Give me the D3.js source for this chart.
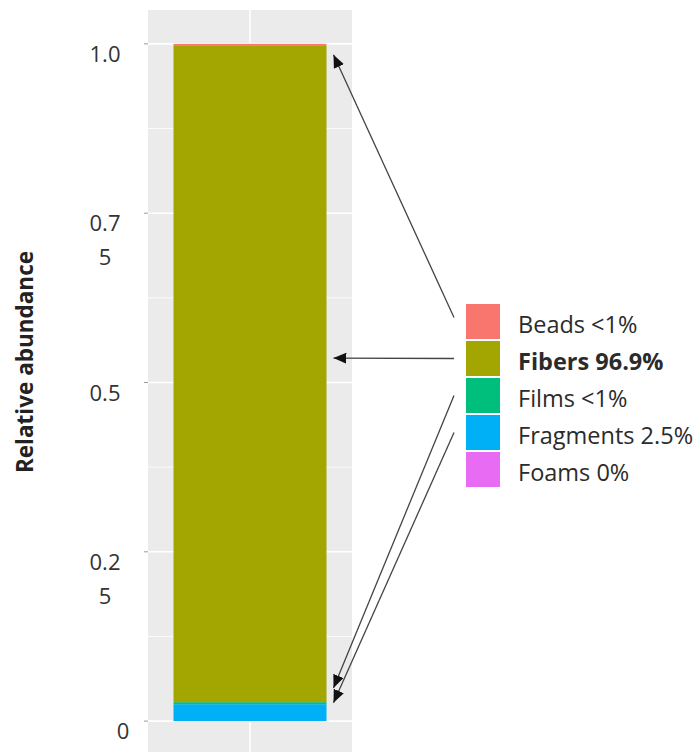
<!DOCTYPE html>
<html>
<head>
<meta charset="utf-8">
<script src="https://cdn.jsdelivr.net/npm/d3@7"></script>
<style>
  html, body { margin: 0; padding: 0; background: #fff; }
  svg { display: block; font-family: "Open Sans", "DejaVu Sans", sans-serif; }
</style>
</head>
<body>
<svg id="chart" width="700" height="752"></svg>
<script>
// ---- data ----
const categories = ["Beads", "Fibers", "Films", "Fragments", "Foams"];
const shares = [0.003, 0.969, 0.003, 0.025, 0.0];
const legendLabels = ["Beads <1%", "Fibers 96.9%", "Films <1%", "Fragments 2.5%", "Foams 0%"];
const colors = ["#F8766D", "#A3A500", "#00BF7D", "#00B0F6", "#E76BF3"];
const tickValues = [0, 0.25, 0.5, 0.75, 1.0];
const tickLabels = ["0", "0.2\n5", "0.5", "0.7\n5", "1.0"];
const yTitle = "Relative abundance";
// arrows: from legend entry to a level on the bar
const arrowFrom = ["Beads", "Fibers", "Films", "Fragments"];
const arrowTo = [0.984, 0.536, 0.049, 0.027];

// ---- layout ----
const svg = d3.select("#chart");
const panel = { left: 148, right: 352, top: 10, bottom: 755 };

const x = d3.scaleLinear().domain([0.4, 1.6]).range([panel.left, panel.right]);
const y = d3.scaleLinear().domain([-0.05, 1.05]).range([panel.bottom, panel.top]);

// panel background
svg.append("rect")
  .attr("x", panel.left).attr("y", panel.top)
  .attr("width", panel.right - panel.left).attr("height", panel.bottom - panel.top)
  .attr("fill", "#EBEBEB");

// minor gridlines
const minor = d3.range(0, 4).map(i => tickValues[i] + 0.125);
svg.append("g").selectAll("line").data(minor).join("line")
  .attr("x1", panel.left).attr("x2", panel.right)
  .attr("y1", d => y(d)).attr("y2", d => y(d))
  .attr("stroke", "#fff").attr("stroke-width", 0.8);
// major gridlines
svg.append("g").selectAll("line").data(tickValues).join("line")
  .attr("x1", panel.left).attr("x2", panel.right)
  .attr("y1", d => y(d)).attr("y2", d => y(d))
  .attr("stroke", "#fff").attr("stroke-width", 1.6);
svg.append("line")
  .attr("x1", x(1)).attr("x2", x(1))
  .attr("y1", panel.top).attr("y2", panel.bottom)
  .attr("stroke", "#fff").attr("stroke-width", 1.6);

// stacked bar (ggplot order: first category on top)
const stackOrder = categories.slice().reverse();
let acc = 0;
const segs = stackOrder.map(c => {
  const i = categories.indexOf(c);
  const s = { cat: c, y0: acc, y1: acc + shares[i], color: colors[i] };
  acc += shares[i];
  return s;
});
svg.append("g").selectAll("rect").data(segs.filter(s => s.y1 > s.y0)).join("rect")
  .attr("x", x(0.55)).attr("width", x(1.45) - x(0.55))
  .attr("y", d => y(d.y1)).attr("height", d => y(d.y0) - y(d.y1))
  .attr("fill", d => d.color);

// y axis ticks
const axisG = svg.append("g");
axisG.selectAll("line").data(tickValues).join("line")
  .attr("x1", panel.left - 4).attr("x2", panel.left)
  .attr("y1", d => y(d)).attr("y2", d => y(d))
  .attr("stroke", "#999").attr("stroke-width", 1);
const lbl = axisG.selectAll("text").data(tickValues).join("text")
  .attr("text-anchor", "middle")
  .attr("fill", "#333")
  .attr("font-size", 22)
  .attr("transform", (d, i) => {
    const txt = tickLabels[i];
    const cx = txt.length === 1 ? panel.left - 25 : panel.left - 43;
    return `translate(${cx},${y(d) + 9})`;
  });
lbl.each(function(d, i) {
  const lines = tickLabels[i].split("\n");
  d3.select(this).selectAll("tspan").data(lines).join("tspan")
    .attr("x", 0)
    .attr("y", (l, j) => j * 34)
    .attr("dominant-baseline", "central")
    .text(l => l);
});

// y title
svg.append("text")
  .attr("transform", `translate(24,362) rotate(-90)`)
  .attr("text-anchor", "middle")
  .attr("dominant-baseline", "central")
  .attr("font-size", 22.5)
  .attr("font-weight", "bold")
  .attr("fill", "#222")
  .text(yTitle);

// legend
const legend = { x: 466, y: 304, size: 35, step: 37 };
const lg = svg.append("g");
lg.selectAll("rect").data(categories).join("rect")
  .attr("x", legend.x).attr("y", (d, i) => legend.y + i * legend.step)
  .attr("width", 34).attr("height", legend.size)
  .attr("fill", (d, i) => colors[i]);
lg.selectAll("text").data(legendLabels).join("text")
  .attr("x", 518)
  .attr("y", (d, i) => legend.y + i * legend.step + legend.size / 2 + 11.5)
  .attr("font-size", 23.5)
  .attr("fill", "#2b2b2b")
  .attr("font-weight", (d, i) => categories[i] === "Fibers" ? "bold" : "normal")
  .text(d => d);

// arrows
svg.append("defs").append("marker")
  .attr("id", "ah").attr("viewBox", "0 0 13 11")
  .attr("refX", 13).attr("refY", 5.5)
  .attr("markerWidth", 13).attr("markerHeight", 11)
  .attr("markerUnits", "userSpaceOnUse")
  .attr("orient", "auto")
  .append("path").attr("d", "M0,0 L13,5.5 L0,11 Z").attr("fill", "#111");

svg.append("g").selectAll("line").data(arrowFrom).join("line")
  .attr("x1", legend.x - 12)
  .attr("y1", (c, i) => legend.y + categories.indexOf(c) * legend.step + legend.size / 2 - (i === 0 ? 4 : 0))
  .attr("x2", x(1.45) + 7)
  .attr("y2", (c, i) => y(arrowTo[i]))
  .attr("stroke", "#444").attr("stroke-width", 1.3)
  .attr("marker-end", "url(#ah)");
</script>
</body>
</html>
